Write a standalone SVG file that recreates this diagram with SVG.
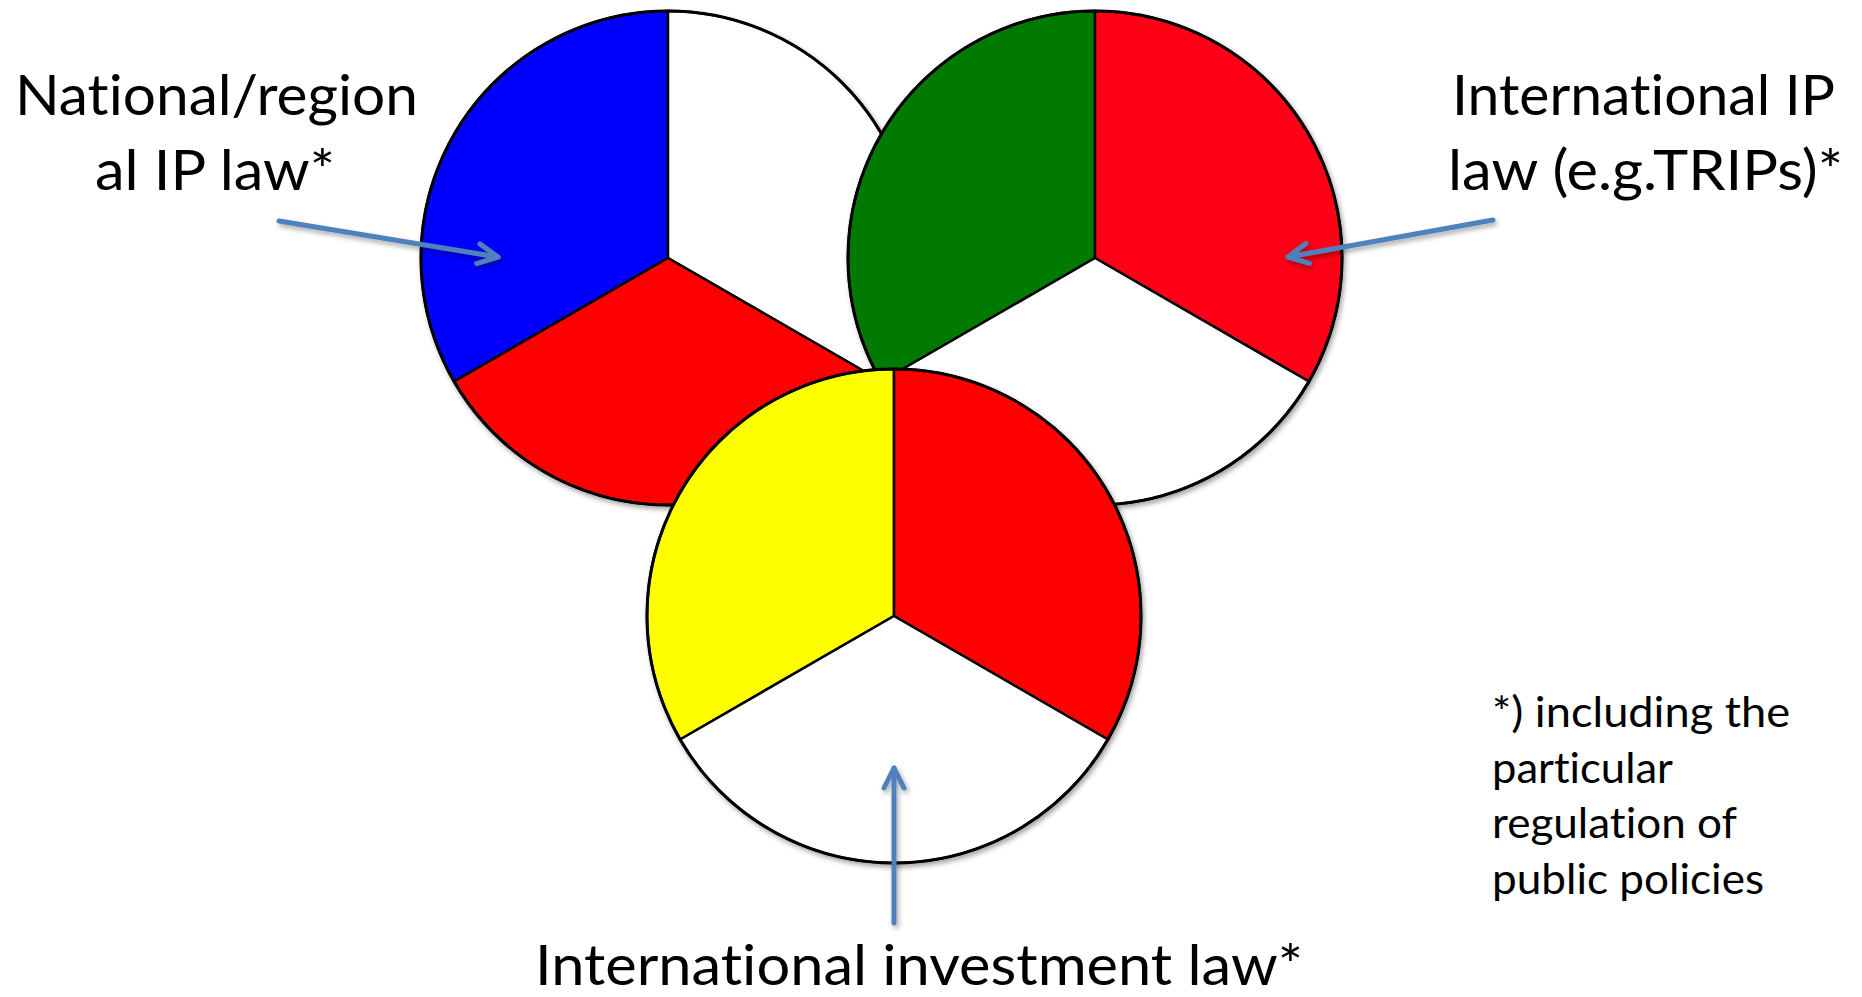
<svg xmlns="http://www.w3.org/2000/svg" width="1862" height="997" viewBox="0 0 1862 997">
  <style>
    .seg { stroke: #000; stroke-width: 2.5; stroke-linejoin: round; }
    .rim { fill: none; stroke: #000; stroke-width: 3; }
    .lbl { font-family: "Lato", "Liberation Sans", sans-serif; font-size: 56px; fill: #000; font-variant-ligatures: none; }
    .note { font-family: "Lato", "Liberation Sans", sans-serif; font-size: 43px; fill: #000; font-variant-ligatures: none; }
    .conn { fill: none; stroke: #4F81BD; stroke-width: 5; stroke-linecap: round; }
  </style>
  <defs>
    <filter id="shadow" x="-10%" y="-10%" width="125%" height="125%">
      <feDropShadow dx="2" dy="3" stdDeviation="2.5" flood-color="#000" flood-opacity="0.35"/>
    </filter>
    <marker id="chev" markerUnits="userSpaceOnUse" markerWidth="30" markerHeight="30" refX="0" refY="0" orient="auto" overflow="visible" viewBox="-25 -15 30 30">
      <path d="M -20 -10 L 0 0 L -20 10" fill="none" stroke="#4F81BD" stroke-width="5" stroke-linecap="round" stroke-linejoin="round"/>
    </marker>
  </defs>
  <rect width="1862" height="997" fill="#fff"/>

  <g id="circle-national" filter="url(#shadow)">
    <path class="seg" fill="#0000FF" d="M 668 258 L 668 11 A 247 247 0 0 0 454.1 381.5 Z"/>
    <path class="seg" fill="#FFFFFF" d="M 668 258 L 668 11 A 247 247 0 0 1 881.9 381.5 Z"/>
    <path class="seg" fill="#FF0000" d="M 668 258 L 454.1 381.5 A 247 247 0 0 0 881.9 381.5 Z"/>
    <circle class="rim" cx="668" cy="258" r="247"/>
  </g>

  <g id="circle-international-ip" filter="url(#shadow)">
    <path class="seg" fill="#007A00" d="M 1095 258 L 1095 11 A 247 247 0 0 0 881.1 381.5 Z"/>
    <path class="seg" fill="#FF0018" d="M 1095 258 L 1095 11 A 247 247 0 0 1 1308.9 381.5 Z"/>
    <path class="seg" fill="#FFFFFF" d="M 1095 258 L 881.1 381.5 A 247 247 0 0 0 1308.9 381.5 Z"/>
    <circle class="rim" cx="1095" cy="258" r="247"/>
  </g>

  <g id="circle-investment" filter="url(#shadow)">
    <path class="seg" fill="#FFFF00" d="M 894 616 L 894 369 A 247 247 0 0 0 680.1 739.5 Z"/>
    <path class="seg" fill="#FF0000" d="M 894 616 L 894 369 A 247 247 0 0 1 1107.9 739.5 Z"/>
    <path class="seg" fill="#FFFFFF" d="M 894 616 L 680.1 739.5 A 247 247 0 0 0 1107.9 739.5 Z"/>
    <circle class="rim" cx="894" cy="616" r="247"/>
  </g>

  <g id="connectors" filter="url(#shadow)">
    <line class="conn" x1="279" y1="221" x2="498" y2="257" marker-end="url(#chev)"/>
    <line class="conn" x1="1493" y1="220" x2="1288" y2="257" marker-end="url(#chev)"/>
    <line class="conn" x1="894" y1="923" x2="894" y2="768" marker-end="url(#chev)"/>
  </g>

  <g id="label-national">
    <text class="lbl" x="15" y="115" textLength="403" lengthAdjust="spacingAndGlyphs">National/region</text>
    <text class="lbl" x="95" y="190" textLength="240" lengthAdjust="spacingAndGlyphs">al IP law*</text>
  </g>

  <g id="label-international-ip">
    <text class="lbl" x="1452" y="115" textLength="383" lengthAdjust="spacingAndGlyphs">International IP</text>
    <text class="lbl" x="1448" y="190" textLength="395" lengthAdjust="spacingAndGlyphs">law (e.g.TRIPs)*</text>
  </g>

  <g id="label-investment">
    <text class="lbl" x="535" y="985" textLength="768" lengthAdjust="spacingAndGlyphs">International investment law*</text>
  </g>

  <g id="footnote">
    <text class="note" x="1492" y="727" textLength="298" lengthAdjust="spacingAndGlyphs">*) including the</text>
    <text class="note" x="1492" y="783" textLength="181" lengthAdjust="spacingAndGlyphs">particular</text>
    <text class="note" x="1492" y="838" textLength="245" lengthAdjust="spacingAndGlyphs">regulation of</text>
    <text class="note" x="1492" y="894" textLength="272" lengthAdjust="spacingAndGlyphs">public policies</text>
  </g>
</svg>
